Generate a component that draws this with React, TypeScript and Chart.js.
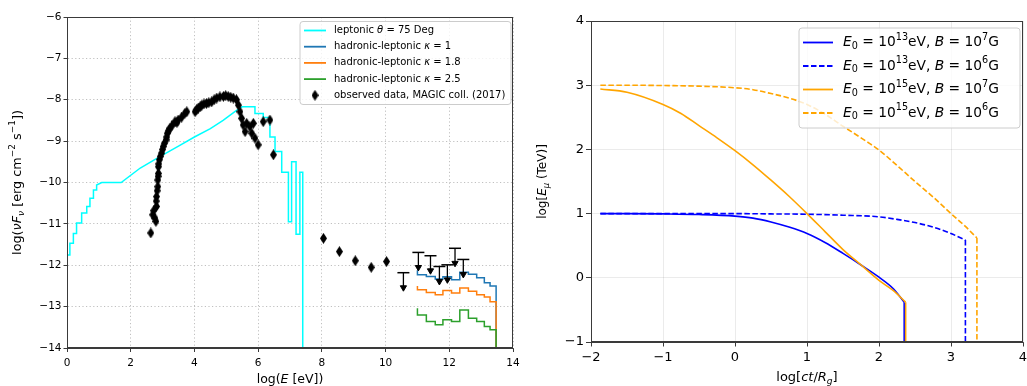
import React, { useEffect, useRef } from "react";
import { Chart, registerables } from "chart.js";

Chart.register(...registerables);

const FONT = "'DejaVu Sans', 'Liberation Sans', sans-serif";

// ---------- Left panel (SED) ----------
const LEFT_X_TICKS = [0, 2, 4, 6, 8, 10, 12, 14];
const LEFT_Y_TICKS = [-14, -13, -12, -11, -10, -9, -8, -7, -6];

// leptonic theta = 75 deg (cyan), polyline vertices
const lepX = [0, 0, 0.09, 0.09, 0.2, 0.2, 0.3, 0.3, 0.46, 0.46, 0.62, 0.62, 0.72, 0.72, 0.83, 0.83, 0.93, 0.93, 1.09, 1.7, 2.3, 2.9, 3.5, 4.0, 4.5, 4.9, 5.3, 5.5, 5.9, 5.9, 6.16, 6.16, 6.37, 6.37, 6.53, 6.53, 6.74, 6.74, 6.95, 6.95, 7.05, 7.05, 7.19, 7.19, 7.31, 7.31, 7.4, 7.4];
const lepY = [-12.0, -11.75, -11.75, -11.47, -11.47, -11.23, -11.23, -10.98, -10.98, -10.74, -10.74, -10.58, -10.58, -10.38, -10.38, -10.18, -10.18, -10.06, -10.0, -10.0, -9.65, -9.38, -9.12, -8.9, -8.7, -8.5, -8.27, -8.17, -8.17, -8.33, -8.33, -8.43, -8.43, -8.9, -8.9, -9.25, -9.25, -9.75, -9.75, -10.95, -10.95, -9.5, -9.5, -11.25, -11.25, -9.75, -9.75, -14];

// hadronic-leptonic histograms: bin edges, first value = start level, then one level per bin
const hlEdges = [11.0, 11.28, 11.56, 11.8, 12.07, 12.33, 12.6, 12.86, 13.1, 13.28, 13.47];
const hlK1 = [-12.12, -12.23, -12.27, -12.33, -12.28, -12.35, -12.17, -12.22, -12.3, -12.42, -12.5];
const hlK18 = [-12.5, -12.59, -12.66, -12.71, -12.61, -12.67, -12.55, -12.63, -12.71, -12.77, -12.88];
const hlK25 = [-13.04, -13.2, -13.36, -13.44, -13.32, -13.36, -13.08, -13.28, -13.36, -13.48, -13.56];
const LEFT_FLOOR = -14;

// observed data, MAGIC coll. (2017)
const obsX = [2.63, 2.69, 2.72, 2.76, 2.79, 2.81, 2.8, 2.81, 2.83, 2.85, 2.85, 2.86, 2.87, 2.87, 2.88, 2.9, 2.93, 2.97, 3.0, 3.02, 3.06, 3.11, 3.13, 3.15, 3.19, 3.23, 3.3, 3.39, 3.45, 3.49, 3.6, 3.7, 3.76, 4.02, 4.07, 4.12, 4.18, 4.23, 4.3, 4.38, 4.45, 4.54, 4.62, 4.7, 4.8, 4.91, 4.98, 5.06, 5.14, 5.22, 5.32, 5.38, 5.43, 5.48, 5.53, 5.59, 5.64, 5.74, 5.8, 5.85, 5.9, 6.0, 6.16, 6.37, 6.48, 8.05, 8.55, 9.05, 9.55, 10.03];
const obsY = [-11.22, -10.78, -10.68, -10.86, -10.94, -10.58, -10.45, -10.34, -10.2, -10.1, -9.94, -9.85, -9.78, -9.62, -9.55, -9.45, -9.37, -9.29, -9.2, -9.13, -9.05, -8.97, -8.9, -8.81, -8.75, -8.69, -8.62, -8.53, -8.55, -8.49, -8.42, -8.33, -8.29, -8.29, -8.24, -8.2, -8.17, -8.13, -8.1, -8.09, -8.07, -8.05, -8.0, -7.96, -7.93, -7.92, -7.9, -7.92, -7.94, -7.96, -8.0, -8.13, -8.29, -8.45, -8.61, -8.77, -8.57, -8.65, -8.81, -8.57, -8.93, -9.09, -8.53, -8.49, -9.33, -11.35, -11.67, -11.89, -12.05, -11.91];

// upper limits
const ulX = [10.56, 11.03, 11.41, 11.69, 11.94, 12.18, 12.44];
const ulY = [-12.18, -11.69, -11.77, -12.03, -11.99, -11.59, -11.86];
const UL_ARROW = 0.36;

// ---------- Right panel (muon energy) ----------
const RIGHT_X_TICKS = [-2, -1, 0, 1, 2, 3, 4];
const RIGHT_Y_TICKS = [-1, 0, 1, 2, 3, 4];
const RIGHT_FLOOR = -1;

const e13b7X = [-1.87, -1.5, -1, -0.5, 0, 0.25, 0.5, 0.75, 1, 1.25, 1.5, 1.75, 2, 2.2, 2.35];
const e13b7Y = [1.0, 1.0, 0.995, 0.985, 0.96, 0.93, 0.87, 0.79, 0.69, 0.55, 0.38, 0.2, 0.01, -0.17, -0.38];
const e13b6X = [-1.87, -1, 0, 0.5, 1, 1.5, 2, 2.25, 2.5, 2.75, 3, 3.1, 3.2];
const e13b6Y = [1.0, 1.0, 1.0, 0.995, 0.99, 0.975, 0.95, 0.91, 0.86, 0.79, 0.69, 0.64, 0.59];
const e15b7X = [-1.87, -1.5, -1, -0.75, -0.5, -0.25, 0, 0.25, 0.5, 0.75, 1, 1.25, 1.5, 1.75, 2, 2.2, 2.37];
const e15b7Y = [2.94, 2.89, 2.7, 2.56, 2.37, 2.18, 1.98, 1.76, 1.52, 1.27, 1.0, 0.72, 0.44, 0.2, -0.04, -0.2, -0.38];
const e15b6X = [-1.87, -1.5, -1, -0.5, 0, 0.25, 0.5, 0.75, 1, 1.25, 1.5, 1.75, 2, 2.25, 2.5, 2.75, 3, 3.2, 3.36];
const e15b6Y = [3.0, 3.0, 2.995, 2.985, 2.96, 2.93, 2.87, 2.8, 2.7, 2.55, 2.36, 2.18, 1.99, 1.75, 1.5, 1.26, 1.0, 0.8, 0.62];

// ---------- helpers ----------
type Part = { t: string; it?: boolean; sup?: boolean; sub?: boolean };

const zip = (xs: number[], ys: number[]) => xs.map((x, i) => ({ x, y: ys[i] }));

function histPoints(edges: number[], vals: number[], floor: number) {
  const pts = [{ x: edges[0], y: vals[0] }];
  for (let k = 1; k < vals.length; k++) pts.push({ x: edges[k - 1], y: vals[k] });
  pts.push({ x: edges[edges.length - 1], y: floor });
  return pts;
}

function dropPoints(xs: number[], ys: number[], floor: number) {
  const i = xs.length - 1;
  return [{ x: xs[i], y: ys[i] }, { x: xs[i], y: floor }];
}

const fmt = (v: any) => String(v).replace("-", "\u2212");

function drawRich(ctx: CanvasRenderingContext2D, parts: Part[], x: number, y: number, size: number, align: "left" | "center") {
  const fontFor = (p: Part) => `${p.it ? "italic " : ""}${p.sup || p.sub ? size * 0.7 : size}px ${FONT}`;
  let w = 0;
  for (const p of parts) {
    ctx.font = fontFor(p);
    w += ctx.measureText(p.t).width;
  }
  let cx = align === "center" ? x - w / 2 : x;
  ctx.textAlign = "left";
  ctx.textBaseline = "middle";
  for (const p of parts) {
    ctx.font = fontFor(p);
    const dy = p.sup ? -size * 0.38 : p.sub ? size * 0.28 : 0;
    ctx.fillText(p.t, cx, y + dy);
    cx += ctx.measureText(p.t).width;
  }
}

function makeDiamond(w: number, h: number) {
  const c = document.createElement("canvas");
  c.width = w;
  c.height = h;
  const g = c.getContext("2d")!;
  g.fillStyle = "#000";
  g.beginPath();
  g.moveTo(w / 2, 0);
  g.lineTo(w, h / 2);
  g.lineTo(w / 2, h);
  g.lineTo(0, h / 2);
  g.closePath();
  g.fill();
  return c;
}

const framePlugin = {
  id: "frame",
  afterDatasetsDraw(chart: any) {
    const { ctx, chartArea: a } = chart;
    ctx.save();
    ctx.strokeStyle = "#3a3a3a";
    ctx.lineWidth = 1;
    ctx.strokeRect(Math.round(a.left) + 0.5, Math.round(a.top) + 0.5, Math.round(a.right - a.left) - 1, Math.round(a.bottom - a.top) - 1);
    ctx.restore();
  },
};

type LegendItem = { parts: Part[]; color: string; dash?: number[]; marker?: HTMLCanvasElement };

function legendPlugin(items: LegendItem[], box: { dxRight: number; dyTop: number; w: number; h: number; row0: number; rowH: number; sample: number; gap: number; size: number; lw: number }) {
  return {
    id: "customLegend",
    afterDraw(chart: any) {
      const { ctx, chartArea: a } = chart;
      const right = a.right - box.dxRight;
      const left = right - box.w;
      const top = a.top + box.dyTop;
      ctx.save();
      ctx.beginPath();
      const r = 3;
      ctx.moveTo(left + r, top);
      ctx.arcTo(left + box.w, top, left + box.w, top + box.h, r);
      ctx.arcTo(left + box.w, top + box.h, left, top + box.h, r);
      ctx.arcTo(left, top + box.h, left, top, r);
      ctx.arcTo(left, top, left + box.w, top, r);
      ctx.closePath();
      ctx.fillStyle = "rgba(255,255,255,0.8)";
      ctx.fill();
      ctx.strokeStyle = "#cccccc";
      ctx.lineWidth = 1;
      ctx.stroke();
      items.forEach((it, i) => {
        const y = top + box.row0 + i * box.rowH;
        const x0 = left + 4;
        if (it.marker) {
          ctx.drawImage(it.marker, x0 + box.sample / 2 - it.marker.width / 2, y - it.marker.height / 2);
        } else {
          ctx.beginPath();
          ctx.setLineDash(it.dash || []);
          ctx.strokeStyle = it.color;
          ctx.lineWidth = box.lw;
          ctx.moveTo(x0, y);
          ctx.lineTo(x0 + box.sample, y);
          ctx.stroke();
          ctx.setLineDash([]);
        }
        ctx.fillStyle = "#000";
        drawRich(ctx, it.parts, x0 + box.sample + box.gap, y, box.size, "left");
      });
      ctx.restore();
    },
  };
}

function titlePlugin(xParts: Part[], yParts: Part[], xSize: number, ySize: number, xOff: number, yOff: number) {
  return {
    id: "axisTitles",
    afterDraw(chart: any) {
      const { ctx, chartArea: a } = chart;
      ctx.save();
      ctx.fillStyle = "#000";
      drawRich(ctx, xParts, (a.left + a.right) / 2, a.bottom + xOff, xSize, "center");
      ctx.translate(a.left - yOff, (a.top + a.bottom) / 2);
      ctx.rotate(-Math.PI / 2);
      drawRich(ctx, yParts, 0, 0, ySize, "center");
      ctx.restore();
    },
  };
}

function axis(ticksArr: number[], horizontal: boolean, fit: number, fontSize: number, gridColor: string, gridDash: number[], tickLen: number, pad: number) {
  const min = Math.min(...ticksArr);
  const max = Math.max(...ticksArr);
  return {
    type: "linear",
    min,
    max,
    afterFit: (s: any) => {
      if (horizontal) s.height = fit;
      else s.width = fit;
      s.paddingLeft = 0;
      s.paddingRight = 0;
      s.paddingTop = 0;
      s.paddingBottom = 0;
    },
    afterBuildTicks: (s: any) => {
      s.ticks = ticksArr.map((v) => ({ value: v }));
    },
    ticks: {
      autoSkip: false,
      maxRotation: 0,
      color: "#000",
      padding: pad,
      font: { family: FONT, size: fontSize },
      callback: (v: any) => fmt(v),
    },
    grid: {
      color: gridColor,
      lineWidth: 0.8,
      drawTicks: true,
      tickLength: tickLen,
      tickColor: "#3a3a3a",
      tickWidth: 1,
    },
    border: { display: true, color: "#3a3a3a", width: 1, dash: gridDash },
    title: { display: false },
  };
}

const LEFT_W = 530;
const RIGHT_W = 1027 - LEFT_W;

function LeftChart() {
  const ref = useRef<HTMLCanvasElement>(null);
  useEffect(() => {
    const diamond = makeDiamond(7, 11);
    const shafts: any[] = [];
    ulX.forEach((x, i) => {
      shafts.push({ x, y: ulY[i] });
      shafts.push({ x, y: ulY[i] - UL_ARROW });
      shafts.push({ x, y: null });
    });
    const chart = new Chart(ref.current!, {
      type: "scatter",
      data: {
        datasets: [
          { order: 8, data: zip(lepX, lepY), showLine: true, borderColor: "#00ffff", borderWidth: 1.5, pointRadius: 0 },
          { order: 7, data: histPoints(hlEdges, hlK1, LEFT_FLOOR), showLine: true, stepped: "before", borderColor: "#1f77b4", borderWidth: 1.5, pointRadius: 0 },
          { order: 6, data: histPoints(hlEdges, hlK18, LEFT_FLOOR), showLine: true, stepped: "before", borderColor: "#ff7f0e", borderWidth: 1.5, pointRadius: 0 },
          { order: 5, data: histPoints(hlEdges, hlK25, LEFT_FLOOR), showLine: true, stepped: "before", borderColor: "#2ca02c", borderWidth: 1.5, pointRadius: 0 },
          { order: 4, data: zip(obsX, obsY), pointStyle: diamond as any, pointRadius: 4, showLine: false },
          { order: 3, data: shafts, showLine: true, spanGaps: false, borderColor: "#000", borderWidth: 1.3, pointRadius: 0 },
          { order: 2, data: zip(ulX, ulY), pointStyle: "line", pointRadius: 6, borderColor: "#000", pointBorderWidth: 1.5, showLine: false },
          { order: 1, data: ulX.map((x, i) => ({ x, y: ulY[i] - UL_ARROW })), pointStyle: "triangle", rotation: 180, pointRadius: 3.6, backgroundColor: "#000", borderColor: "#000", pointBorderWidth: 1, showLine: false },
        ] as any,
      },
      options: {
        responsive: false,
        animation: false,
        events: [],
        layout: { padding: { left: 0, top: 17, right: LEFT_W - 513, bottom: 0 } },
        plugins: { legend: { display: false }, tooltip: { enabled: false } },
        scales: {
          x: axis(LEFT_X_TICKS, true, 38, 10.5, "#b0b0b0", [1.2, 2.4], 4, 5),
          y: axis(LEFT_Y_TICKS, false, 67, 10.5, "#b0b0b0", [1.2, 2.4], 3.5, 2),
        } as any,
      },
      plugins: [
        framePlugin,
        titlePlugin(
          [{ t: "log(" }, { t: "E", it: true }, { t: " [eV])" }],
          [{ t: "log(" }, { t: "\u03BDF", it: true }, { t: "\u03BD", it: true, sub: true }, { t: " [erg cm" }, { t: "\u22122", sup: true }, { t: " s" }, { t: "\u22121", sup: true }, { t: "])" }],
          12.5,
          12.8,
          32,
          49
        ),
        legendPlugin(
          [
            { parts: [{ t: "leptonic " }, { t: "\u03B8", it: true }, { t: " = 75 Deg" }], color: "#00ffff" },
            { parts: [{ t: "hadronic-leptonic " }, { t: "\u03BA", it: true }, { t: " = 1" }], color: "#1f77b4" },
            { parts: [{ t: "hadronic-leptonic " }, { t: "\u03BA", it: true }, { t: " = 1.8" }], color: "#ff7f0e" },
            { parts: [{ t: "hadronic-leptonic " }, { t: "\u03BA", it: true }, { t: " = 2.5" }], color: "#2ca02c" },
            { parts: [{ t: "observed data, MAGIC coll. (2017)" }], color: "#000", marker: diamond },
          ],
          { dxRight: 2, dyTop: 4.5, w: 211, h: 83, row0: 9, rowH: 16.2, sample: 22, gap: 8, size: 10, lw: 1.8 }
        ),
      ] as any,
    });
    return () => chart.destroy();
  }, []);
  return <canvas ref={ref} width={LEFT_W} height={386} style={{ position: "absolute", left: 0, top: 0, width: LEFT_W, height: 386 }} />;
}

function RightChart() {
  const ref = useRef<HTMLCanvasElement>(null);
  useEffect(() => {
    const lbl = (e: string, b: string): Part[] => [
      { t: "E", it: true },
      { t: "0", sub: true },
      { t: " = 10" },
      { t: e, sup: true },
      { t: "eV, " },
      { t: "B", it: true },
      { t: " = 10" },
      { t: b, sup: true },
      { t: "G" },
    ];
    const DASH = [5.5, 2.5];
    const curve = (xs: number[], ys: number[], color: string, dash: number[], order: number) => [
      { order, data: zip(xs, ys), showLine: true, cubicInterpolationMode: "monotone", borderColor: color, borderWidth: 1.6, borderDash: dash, pointRadius: 0 },
      { order, data: dropPoints(xs, ys, RIGHT_FLOOR), showLine: true, borderColor: color, borderWidth: 1.6, borderDash: dash, pointRadius: 0 },
    ];
    const chart = new Chart(ref.current!, {
      type: "scatter",
      data: {
        datasets: [
          ...curve(e13b7X, e13b7Y, "#0000ff", [], 4),
          ...curve(e13b6X, e13b6Y, "#0000ff", DASH, 3),
          ...curve(e15b7X, e15b7Y, "#ffa500", [], 2),
          ...curve(e15b6X, e15b6Y, "#ffa500", DASH, 1),
        ] as any,
      },
      options: {
        responsive: false,
        animation: false,
        events: [],
        layout: { padding: { left: 0, top: 21, right: 4, bottom: 0 } },
        plugins: { legend: { display: false }, tooltip: { enabled: false } },
        scales: {
          x: axis(RIGHT_X_TICKS, true, 44, 13, "rgba(0,0,0,0.1)", [], 4.5, 3),
          y: axis(RIGHT_Y_TICKS, false, 591 - LEFT_W, 13, "rgba(0,0,0,0.1)", [], 5, 2),
        } as any,
      },
      plugins: [
        framePlugin,
        titlePlugin(
          [{ t: "log[" }, { t: "ct", it: true }, { t: "/" }, { t: "R", it: true }, { t: "g", it: true, sub: true }, { t: "]" }],
          [{ t: "log[" }, { t: "E", it: true }, { t: "\u03BC", it: true, sub: true }, { t: " (TeV)]" }],
          13,
          12,
          36,
          48
        ),
        legendPlugin(
          [
            { parts: lbl("13", "7"), color: "#0000ff" },
            { parts: lbl("13", "6"), color: "#0000ff", dash: DASH },
            { parts: lbl("15", "7"), color: "#ffa500" },
            { parts: lbl("15", "6"), color: "#ffa500", dash: DASH },
          ],
          { dxRight: 3, dyTop: 7, w: 221, h: 100, row0: 14.5, rowH: 23.5, sample: 30, gap: 10, size: 13.8, lw: 1.8 }
        ),
      ] as any,
    });
    return () => chart.destroy();
  }, []);
  return <canvas ref={ref} width={RIGHT_W} height={386} style={{ position: "absolute", left: LEFT_W, top: 0, width: RIGHT_W, height: 386 }} />;
}

export default function App() {
  return (
    <div style={{ position: "absolute", left: 0, top: 0, width: 1027, height: 386, background: "#fff", overflow: "hidden" }}>
      <LeftChart />
      <RightChart />
    </div>
  );
}
